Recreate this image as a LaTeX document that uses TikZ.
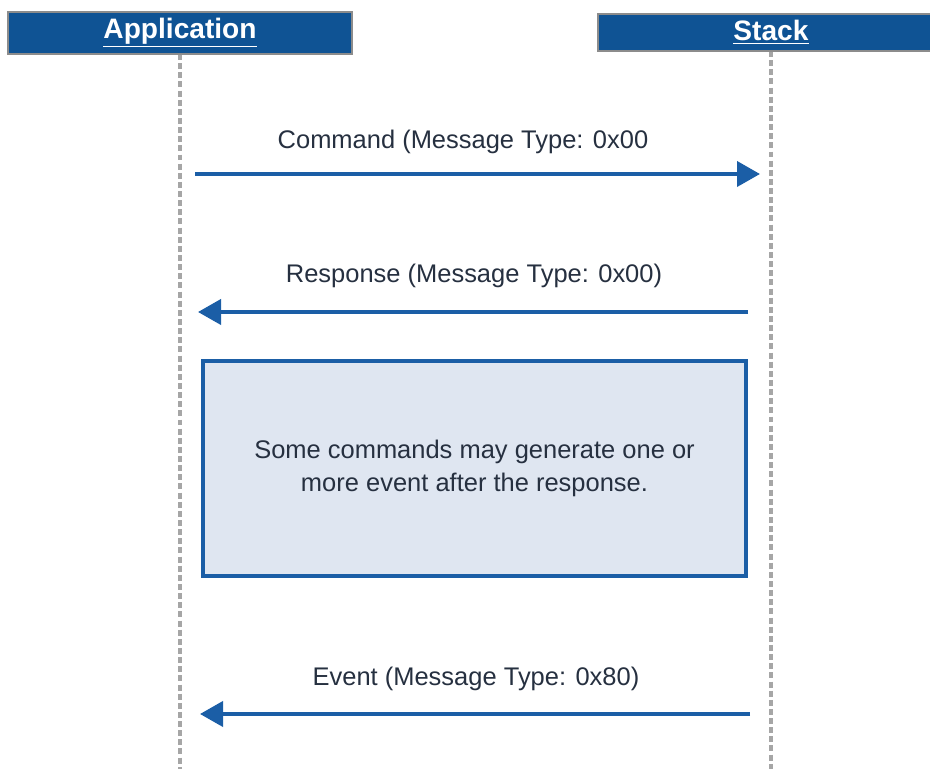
\documentclass[tikz,border=0pt]{standalone}
\usepackage{fontspec}
\setmainfont{Liberation Sans}
\usepackage{xcolor}
\usepackage{tikz}
\usetikzlibrary {arrows.meta,positioning}
\definecolor{headblue}{HTML}{0F5394}
\definecolor{arrowblue}{HTML}{1B5EA6}
\definecolor{notefill}{HTML}{DFE6F1}
\definecolor{textdark}{HTML}{263040}
\definecolor{headgray}{HTML}{8C8C8C}
\definecolor{lifegray}{HTML}{A6A6A6}

\begin{document}
\begin{tikzpicture}[x=0.2mm, y=-0.2mm,
  header/.style = {draw=headgray, line width=1.6pt, fill=headblue, text=white,
                   font=\fontsize{16}{18}\selectfont\bfseries, inner sep=0pt},
  lifeline/.style = {draw=lifegray, line width=1.8pt, dash pattern=on 3.4pt off 1.8pt},
  msg/.style = {draw=arrowblue, line width=2.2pt, -{Triangle[length=4.6mm, width=5mm]}},
  msglabel/.style = {text=textdark, font=\fontsize{14.5}{17}\selectfont, inner sep=0pt},
  note/.style = {draw=arrowblue, line width=2pt, fill=notefill, text=textdark,
                 align=center, font=\fontsize{14.5}{18.7}\selectfont,
                 minimum width=108.6mm, minimum height=43mm}]

\useasboundingbox (0,0) rectangle (930,769);

% lifelines
\coordinate (append) at (180,769);
\coordinate (stkend) at (771,769);
\draw [lifeline] (180,54) -- (append);
\draw [lifeline] (771,51) -- (stkend);

\node (app) at (180,33) [header, minimum width=68.8mm, minimum height=8.4mm]{\underline{Application}};
\node (stk) at (771,32.5) [header, minimum width=69.2mm, minimum height=7.4mm]{\underline{Stack}};

% command
\coordinate (cmdA) at (195,174);
\coordinate (cmdS) at (760,174);
\node (cmdlbl) at (463,142) [msglabel]{Command (Message Type: 0x00};
\draw [msg] (cmdA) -- (cmdS);

% response
\coordinate (rspS) at (748,312);
\coordinate (rspA) at (198,312);
\node (rsplbl) at (474,276) [msglabel]{Response (Message Type: 0x00)};
\draw [msg] (rspS) -- (rspA);

% note
\node (note) at (474.5,468.5) [note]{Some commands may generate one or\\more event after the response.};

% event
\coordinate (evtS) at (750,714);
\coordinate (evtA) at (200,714);
\node (evtlbl) at (476,679) [msglabel]{Event (Message Type: 0x80)};
\draw [msg] (evtS) -- (evtA);

\end{tikzpicture}
\end{document}
